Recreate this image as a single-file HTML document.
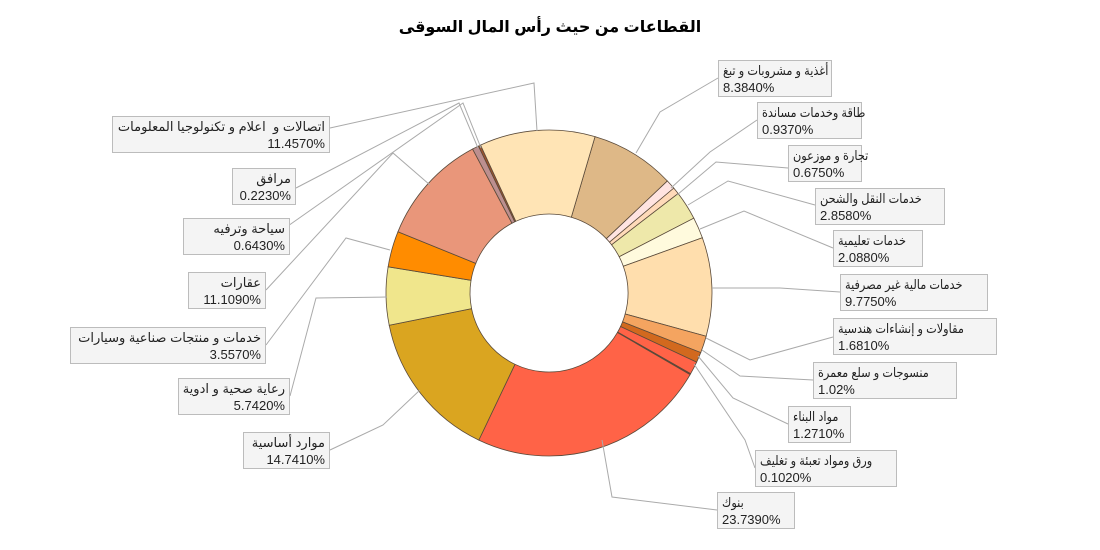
<!DOCTYPE html>
<html><head><meta charset="utf-8">
<style>
html,body{margin:0;padding:0;background:#fff;}
body{width:1100px;height:550px;overflow:hidden;position:relative;font-family:"Liberation Sans","DejaVu Sans","Noto Sans CJK SC",sans-serif;}
.t{position:absolute;left:0;width:1100px;top:17px;text-align:center;font-size:16px;font-weight:bold;color:#000;direction:rtl;}
.b{position:absolute;background:#f4f4f4;border:1px solid #bcbcbc;font-size:13px;line-height:17px;padding:1px 4px;color:#222;box-sizing:border-box;white-space:nowrap;}
.b div{white-space:nowrap;height:17px;}
.l{text-align:left;}
.l span{display:inline-block;direction:rtl;transform:scaleX(0.87);transform-origin:0 50%;}
.r{text-align:right;}
svg{position:absolute;left:0;top:0;}
</style></head><body>
<svg id="s" width="1100" height="550"></svg>
<div class="t">القطاعات من حيث رأس المال السوقى</div>
<div class="b l" style="left:718px;top:60px;width:114px;height:37px"><div><span>أغذية و مشروبات و تبغ</span></div>8.3840%</div>
<div class="b l" style="left:757px;top:102px;width:105px;height:37px"><div><span>طاقة وخدمات مساندة</span></div>0.9370%</div>
<div class="b l" style="left:788px;top:145px;width:74px;height:37px"><div><span>تجارة و موزعون</span></div>0.6750%</div>
<div class="b l" style="left:815px;top:188px;width:130px;height:37px"><div><span>خدمات النقل والشحن</span></div>2.8580%</div>
<div class="b l" style="left:833px;top:230px;width:90px;height:37px"><div><span>خدمات تعليمية</span></div>2.0880%</div>
<div class="b l" style="left:840px;top:274px;width:148px;height:37px"><div><span>خدمات مالية غير مصرفية</span></div>9.7750%</div>
<div class="b l" style="left:833px;top:318px;width:164px;height:37px"><div><span>مقاولات و إنشاءات هندسية</span></div>1.6810%</div>
<div class="b l" style="left:813px;top:362px;width:144px;height:37px"><div><span>منسوجات و سلع معمرة</span></div>1.02%</div>
<div class="b l" style="left:788px;top:406px;width:63px;height:37px"><div><span>مواد البناء</span></div>1.2710%</div>
<div class="b l" style="left:755px;top:450px;width:142px;height:37px"><div><span>ورق ومواد تعبئة و تغليف</span></div>0.1020%</div>
<div class="b l" style="left:717px;top:492px;width:78px;height:37px"><div><span>بنوك</span></div>23.7390%</div>
<div class="b r" style="left:243px;top:432px;width:87px;height:37px"><div dir="rtl">موارد أساسية</div>14.7410%</div>
<div class="b r" style="left:178px;top:378px;width:112px;height:37px"><div dir="rtl">رعاية صحية و ادوية</div>5.7420%</div>
<div class="b r" style="left:70px;top:327px;width:196px;height:37px"><div dir="rtl">خدمات و منتجات صناعية وسيارات</div>3.5570%</div>
<div class="b r" style="left:188px;top:272px;width:78px;height:37px"><div dir="rtl">عقارات</div>11.1090%</div>
<div class="b r" style="left:183px;top:218px;width:107px;height:37px"><div dir="rtl">سياحة وترفيه</div>0.6430%</div>
<div class="b r" style="left:232px;top:168px;width:64px;height:37px"><div dir="rtl">مرافق</div>0.2230%</div>
<div class="b r" style="left:112px;top:116px;width:218px;height:37px"><div dir="rtl">اتصالات و&nbsp; اعلام و تكنولوجيا المعلومات</div>11.4570%</div>
<script>
var d=[[8.384,"#DEB887"],[0.937,"#FFE4E1"],[0.675,"#FFDAB9"],[2.858,"#EEE8AA"],[2.088,"#FFFADD"],[9.775,"#FFDEAD"],[1.681,"#F4A460"],[1.02,"#D2691E"],[1.271,"#FF6347"],[0.102,"#A52A2A"],[23.739,"#FF6347"],[14.741,"#DAA520"],[5.742,"#F0E68C"],[3.557,"#FF8C00"],[11.109,"#E9967A"],[0.643,"#BC8F8F"],[0.223,"#A0522D"],[11.457,"#FFE4B5"]];
var cx=549,cy=293,R=163,r=79,a=16.4,h='';
function p(ang,rad){var t=ang*Math.PI/180;return (cx+rad*Math.sin(t)).toFixed(2)+','+(cy-rad*Math.cos(t)).toFixed(2);}
d.forEach(function(s){var b=a+s[0]*3.6,lg=(b-a)>180?1:0;
h+='<path d="M'+p(a,R)+'A'+R+','+R+' 0 '+lg+' 1 '+p(b,R)+'L'+p(b,r)+'A'+r+','+r+' 0 '+lg+' 0 '+p(a,r)+'Z" fill="'+s[1]+'" stroke="#5a4a3a" stroke-width="0.8"/>';a=b;});
var L=[[718,78,660,112,636,153],[757,120,710,152,671,188],[788,168,716,162,677,195],[815,205,728,181,688,205],[833,248,744,211,700,229],[840,292,780,288,712,288],[833,337,750,360,706,338],[813,380,740,376,702,350],[788,424,733,398,698,356],[755,468,745,440,694,364],[717,510,612,497,602,440],[330,450,383,425,420,390],[290,396,316,298,387,297],[266,345,346,238,390,250],[266,290,393,153,430,185],[268,240,463,103,481,148],[296,188,459,103,478,148],[330,128,534,83,537,131]];
L.forEach(function(q){h+='<polyline points="'+q[0]+','+q[1]+' '+q[2]+','+q[3]+' '+q[4]+','+q[5]+'" fill="none" stroke="#aaa" stroke-width="1"/>';});
document.getElementById('s').innerHTML=h;
</script>
</body></html>
